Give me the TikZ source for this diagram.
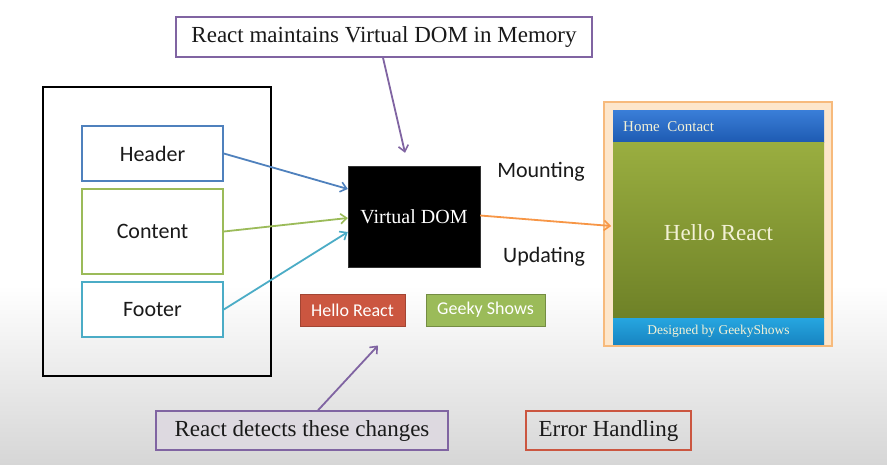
\documentclass[tikz,border=0pt]{standalone}
\usepackage{fontspec}
\setmainfont{Liberation Serif}
\newfontfamily\calfont{Carlito}
\usetikzlibrary{arrows.meta}
\definecolor{hblue}{HTML}{4F81BD}
\definecolor{cgreen}{HTML}{9BBB59}
\definecolor{fblue}{HTML}{4BACC6}
\definecolor{oorange}{HTML}{F79646}
\definecolor{ppurple}{HTML}{8064A2}
\definecolor{rred}{HTML}{CB5640}
\definecolor{txt}{HTML}{1A1A1A}
\definecolor{cream}{HTML}{F3F1D6}
\definecolor{navtop}{HTML}{3A7ED8}
\definecolor{navbot}{HTML}{1E5BB2}
\definecolor{bodytop}{HTML}{9AAE40}
\definecolor{bodybot}{HTML}{6E8127}
\definecolor{foottop}{HTML}{26A6E0}
\definecolor{footbot}{HTML}{1885C2}
\definecolor{framefill}{HTML}{FDE6CB}
\definecolor{frameline}{HTML}{F7BA7C}
\tikzset{
  partbox/.style={draw, line width=1.6pt, fill=white, minimum width=141pt, inner sep=0pt, font=\calfont\fontsize{22}{24}\selectfont, text=txt},
  calloutbox/.style={draw=ppurple, line width=1.4pt, inner sep=0pt, font=\fontsize{23}{25}\selectfont, text=txt},
  tagbox/.style={minimum height=32pt, inner sep=0pt, text=white, font=\calfont\fontsize{18}{20}\selectfont, line width=1pt},
  conn/.style={line width=1.8pt, -{Straight Barb[length=6pt,width=10pt,line width=1.6pt]}},
  plabel/.style={font=\calfont\fontsize{22}{24}\selectfont, text=txt}
}
\begin{document}
\begin{tikzpicture}[x=1pt,y=-1pt]
\useasboundingbox (0,0) rectangle (887,464);
% background
\fill[white] (0,0) rectangle (887,464);
\shade[top color=white, bottom color=black!16] (0,285) rectangle (887,464);

% left page box
\node[draw=black, line width=2pt, minimum width=228pt, minimum height=289pt, inner sep=0pt] (page) at (157,231.5) {};
\node[partbox, draw=hblue, minimum height=55pt] (header) at (152.5,153.5) {Header};
\node[partbox, draw=cgreen, minimum height=85pt] (content) at (152.5,231.5) {Content};
\node[partbox, draw=fblue, minimum height=55pt] (footer) at (152.5,309.5) {Footer};

% virtual DOM
\node[fill=black, draw=black!80, minimum width=132pt, minimum height=101pt, inner sep=0pt, text=white, font=\fontsize{20}{22}\selectfont] (vdom) at (414,216.5) {Virtual DOM};

\node[plabel] (mount) at (541,172) {Mounting};
\node[plabel] (update) at (544,257) {Updating};

% tags
\node[tagbox, fill=rred, draw=rred!80!black, minimum width=105pt] (hello) at (352.5,310) {Hello React};
\node[tagbox, fill=cgreen, draw=cgreen!75!black, minimum width=119pt] (geeky) at (485.5,310) {Geeky Shows};

% callouts
\node[calloutbox, fill=white, minimum width=416pt, minimum height=40pt] (maint) at (384,37) {React maintains Virtual DOM in Memory};
\node[calloutbox, fill=ppurple!12!white!92!black, minimum width=292pt, minimum height=39pt] (detect) at (302,430.5) {React detects these changes};
\node[calloutbox, draw=rred, minimum width=165pt, minimum height=39pt] (error) at (608.5,430.5) {Error Handling};

% rendered page on the right
\node[draw=frameline, fill=framefill, line width=1.6pt, minimum width=228pt, minimum height=244pt, inner sep=0pt] (frame) at (718,224) {};
\shade[top color=navtop, bottom color=navbot] (613,110) rectangle (824,142);
\node[anchor=west, text=cream, font=\fontsize{15}{17}\selectfont, inner sep=0pt] (nav) at (623,127) {Home\ \ Contact};
\shade[top color=bodytop, bottom color=bodybot] (613,142) rectangle (824,318);
\node[text=cream, font=\fontsize{23}{25}\selectfont, inner sep=0pt] (hr) at (718.5,233) {Hello React};
\shade[top color=foottop, bottom color=footbot] (613,318) rectangle (824,344);
\node[text=cream, font=\fontsize{13.5}{15}\selectfont, inner sep=0pt] (des) at (718.5,331) {Designed by GeekyShows};

% connectors
\draw[conn, hblue] (header.east) -- ([yshift=27.5pt]vdom.west);
\draw[conn, cgreen] (content.east) -- ([yshift=-1.5pt]vdom.west);
\draw[conn, fblue] (footer.east) -- ([yshift=-15.5pt]vdom.west);
\draw[conn, oorange] ([yshift=1pt]vdom.east) -- ([xshift=8pt,yshift=-2pt]frame.west);
\draw[conn, ppurple] ([xshift=-1pt]maint.south) -- ([xshift=-9pt,yshift=13pt]vdom.north);
\draw[conn, ppurple] ([xshift=16pt]detect.north) -- ([xshift=25.5pt,yshift=-19pt]hello.south);
\end{tikzpicture}
\end{document}
